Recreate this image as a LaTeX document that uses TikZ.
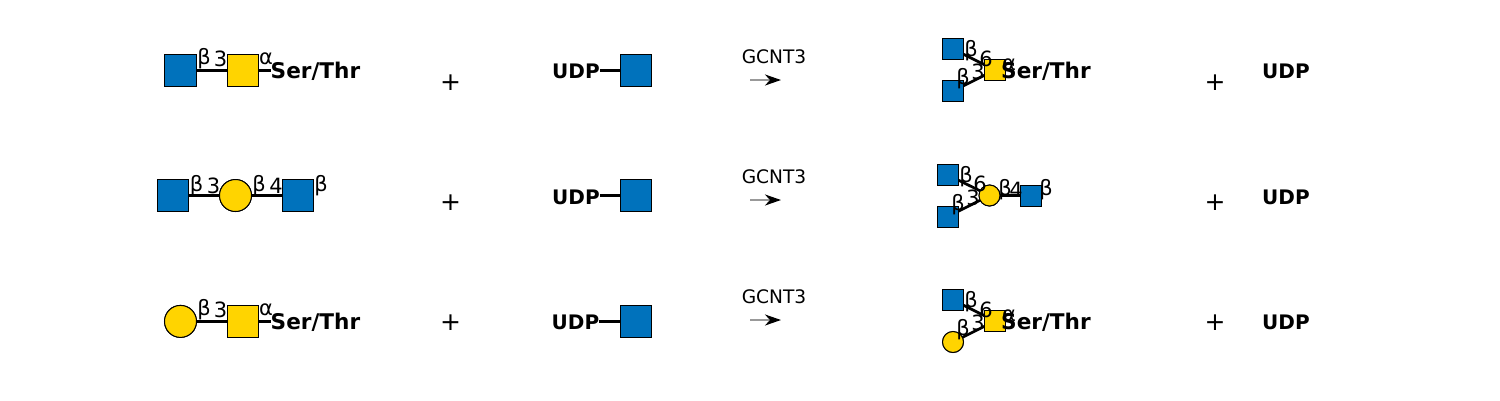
\documentclass[tikz,border=0pt]{standalone}
\usepackage{fontspec}
\setmainfont{DejaVu Sans}
\usetikzlibrary{arrows.meta}
\definecolor{gnblue}{HTML}{0072BC}
\definecolor{galyel}{HTML}{FFD400}
\tikzset{
  x=1pt,y=-1pt,
  bigsq/.style={draw=black,line width=1pt,fill=gnblue,minimum size=31.5pt,inner sep=0pt,outer sep=0pt},
  bigyel/.style={bigsq,fill=galyel},
  bigcir/.style={draw=black,line width=1pt,fill=galyel,circle,minimum size=32pt,inner sep=0pt,outer sep=0pt},
  smsq/.style={draw=black,line width=1pt,fill=gnblue,minimum size=21pt,inner sep=0pt,outer sep=0pt},
  smyel/.style={smsq,fill=galyel},
  smcir/.style={draw=black,line width=1pt,fill=galyel,circle,minimum size=21pt,inner sep=0pt,outer sep=0pt},
  link/.style={line width=2.7pt,black},
  lbl/.style={font=\fontsize{21}{21}\selectfont,inner sep=0pt,text=black,yshift=-1.5pt},
  bold/.style={font=\fontsize{20}{20}\selectfont\bfseries,inner sep=0pt,text=black},
  boldw/.style={font=\fontsize{21.6}{21.6}\selectfont\bfseries,inner sep=0pt,text=black},
  enz/.style={font=\fontsize{18.6}{18.6}\selectfont,inner sep=0pt,text=black},
  plus/.style={font=\fontsize{25}{25}\selectfont,inner sep=0pt,text=black,yshift=-1pt},
  rxn/.style={line width=2pt,black!40,-{Stealth[black,length=16pt,width=11pt,inset=5pt]}}
}
\begin{document}
\begin{tikzpicture}
\useasboundingbox (0,0) rectangle (1500,400);
% --- Row 1
\node[bigsq] (a1) at (180.5,70.4) {};
\node[bigyel] (a2) at (243,70.4) {};
\node[boldw,anchor=west] (a3) at (270.5,71.5) {Ser/Thr};
\draw[link] (a1) -- (a2);
\draw[link] (a2) -- (a3.west |- a2);
\node[bigsq] at (a1) {};
\node[bigyel] at (a2) {};
\node[lbl] (a4) at (204,57.5) {β};
\node[lbl] (a5) at (220.5,57.5) {3};
\node[lbl] (a6) at (266,57.5) {α};
\node[plus] (a7) at (450.5,82) {+};
\node[bold,anchor=west] (a8) at (552,71.5) {UDP};
\node[bigsq] (a9) at (636,70.4) {};
\draw[link] (a8.east |- a9) -- (a9);
\node[bigsq] at (a9) {};
\node[enz] (a10) at (774,57) {GCNT3};
\coordinate (a11) at (750,80);
\coordinate (a12) at (781,80);
\draw[rxn] (a11) -- (a12);
\node[smsq] (a13) at (953,49) {};
\node[smsq] (a14) at (953,91) {};
\node[smyel] (a15) at (995,70) {};
\draw[link] (a13) -- (a15);
\draw[link] (a14) -- (a15);
\node[smsq] at (a13) {};
\node[smsq] at (a14) {};
\node[smyel] at (a15) {};
\node[lbl] (a16) at (971,49) {β};
\node[lbl] (a17) at (986,57) {6};
\node[lbl] (a18) at (963,77) {β};
\node[lbl] (a19) at (978,70) {3};
\node[lbl] (a20) at (1009,63) {α};
\node[boldw,anchor=west] (a21) at (1001,71.5) {Ser/Thr};
\node[plus] (a22) at (1215,82) {+};
\node[bold,anchor=west] (a23) at (1262,71.5) {UDP};
% --- Row 2
\node[bigsq] (b1) at (173,195.5) {};
\node[bigcir] (b2) at (235.5,195.5) {};
\node[bigsq] (b3) at (298,195.5) {};
\draw[link] (b1) -- (b2);
\draw[link] (b2) -- (b3);
\node[bigsq] at (b1) {};
\node[bigcir] at (b2) {};
\node[bigsq] at (b3) {};
\node[lbl] (b4) at (196.5,184) {β};
\node[lbl] (b5) at (213.5,184) {3};
\node[lbl] (b6) at (259,184) {β};
\node[lbl] (b7) at (276,184) {4};
\node[lbl] (b8) at (321,184) {β};
\node[plus] (b9) at (450.5,202) {+};
\node[bold,anchor=west] (b10) at (552,197) {UDP};
\node[bigsq] (b11) at (636,195.5) {};
\draw[link] (b10.east |- b11) -- (b11);
\node[bigsq] at (b11) {};
\node[enz] (b12) at (774,177) {GCNT3};
\coordinate (b13) at (750,200);
\coordinate (b14) at (781,200);
\draw[rxn] (b13) -- (b14);
\node[smsq] (b15) at (948,175) {};
\node[smsq] (b16) at (948,216.5) {};
\node[smcir] (b17) at (989.5,195.5) {};
\node[smsq] (b18) at (1031,195.5) {};
\draw[link] (b15) -- (b17);
\draw[link] (b16) -- (b17);
\draw[link] (b17) -- (b18);
\node[smsq] at (b15) {};
\node[smsq] at (b16) {};
\node[smcir] at (b17) {};
\node[smsq] at (b18) {};
\node[lbl] (b19) at (966,175) {β};
\node[lbl] (b20) at (980,182) {6};
\node[lbl] (b21) at (958,203) {β};
\node[lbl] (b22) at (973,196) {3};
\node[lbl] (b23) at (1005,188) {β};
\node[lbl] (b24) at (1016,188) {4};
\node[lbl] (b25) at (1046,188) {β};
\node[plus] (b26) at (1215,202) {+};
\node[bold,anchor=west] (b27) at (1262,197) {UDP};
% --- Row 3
\node[bigcir] (c1) at (180.5,321.4) {};
\node[bigyel] (c2) at (243,321.4) {};
\node[boldw,anchor=west] (c3) at (270.5,322.5) {Ser/Thr};
\draw[link] (c1) -- (c2);
\draw[link] (c2) -- (c3.west |- c2);
\node[bigcir] at (c1) {};
\node[bigyel] at (c2) {};
\node[lbl] (c4) at (204,308.5) {β};
\node[lbl] (c5) at (220.5,308.5) {3};
\node[lbl] (c6) at (266,308.5) {α};
\node[plus] (c7) at (450.5,322) {+};
\node[bold,anchor=west] (c8) at (551.5,322.5) {UDP};
\node[bigsq] (c9) at (636,321.4) {};
\draw[link] (c8.east |- c9) -- (c9);
\node[bigsq] at (c9) {};
\node[enz] (c10) at (774,297) {GCNT3};
\coordinate (c11) at (750,320);
\coordinate (c12) at (781,320);
\draw[rxn] (c11) -- (c12);
\node[smsq] (c13) at (953,300) {};
\node[smcir] (c14) at (953,342) {};
\node[smyel] (c15) at (995,321) {};
\draw[link] (c13) -- (c15);
\draw[link] (c14) -- (c15);
\node[smsq] at (c13) {};
\node[smcir] at (c14) {};
\node[smyel] at (c15) {};
\node[lbl] (c16) at (971,300) {β};
\node[lbl] (c17) at (986,308) {6};
\node[lbl] (c18) at (963,328) {β};
\node[lbl] (c19) at (978,321) {3};
\node[lbl] (c20) at (1009,314) {α};
\node[boldw,anchor=west] (c21) at (1001,322.5) {Ser/Thr};
\node[plus] (c22) at (1215,322) {+};
\node[bold,anchor=west] (c23) at (1262,322.5) {UDP};
\end{tikzpicture}
\end{document}
